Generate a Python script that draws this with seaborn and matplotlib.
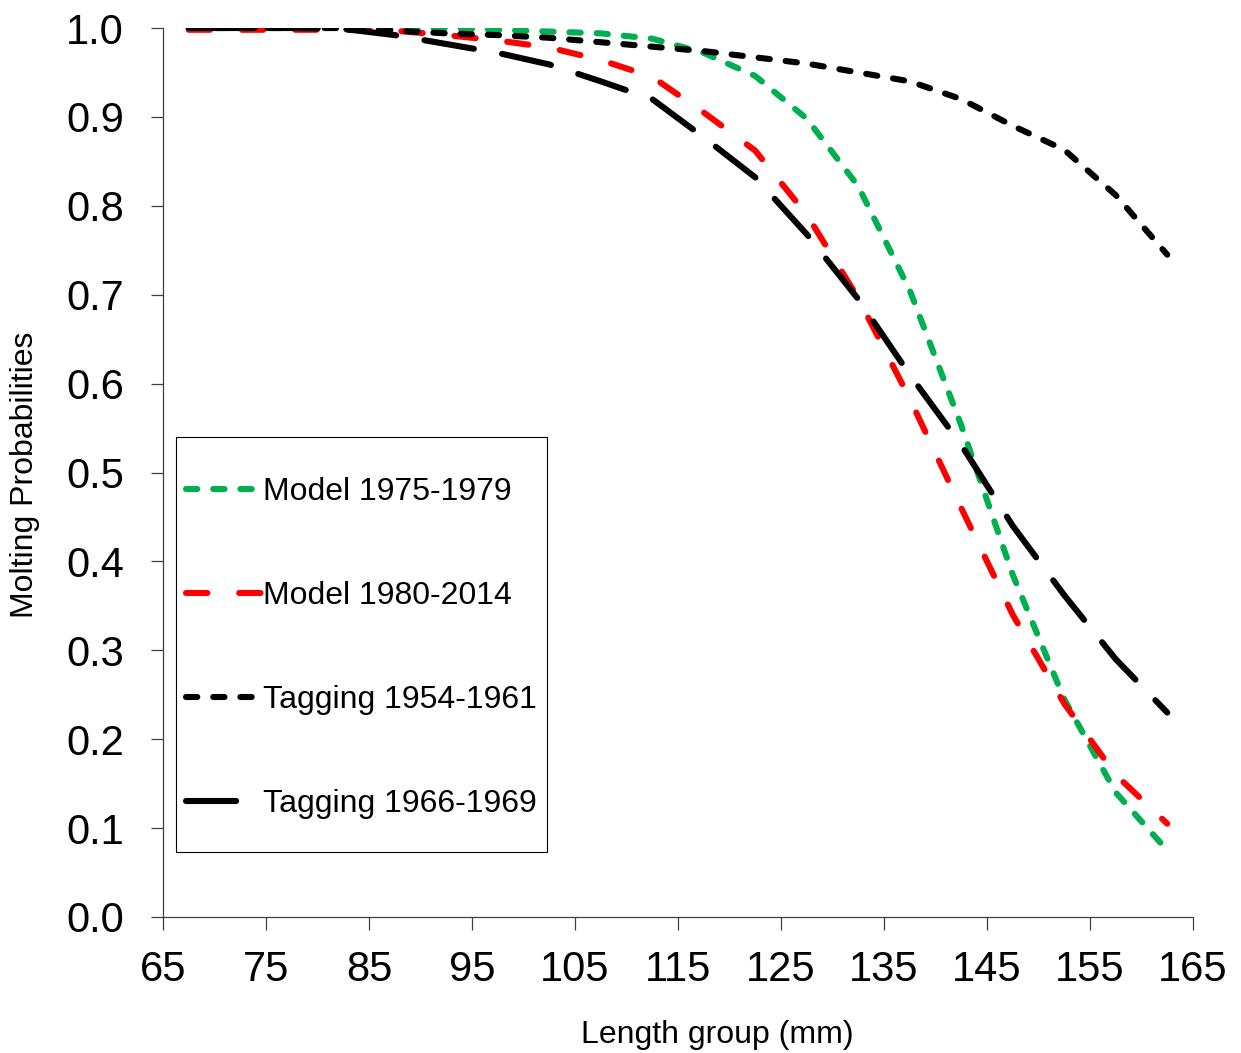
import pandas as pd
import matplotlib
matplotlib.use('Agg')
import matplotlib.pyplot as plt
from matplotlib.path import Path
import seaborn as sns

# length group midpoints (mm)
length = [67.5, 72.5, 77.5, 82.5, 87.5, 92.5, 97.5, 102.5, 107.5, 112.5,
          117.5, 122.5, 127.5, 132.5, 137.5, 142.5, 147.5, 152.5, 157.5, 162.5]

model_1975 = [1.0, 1.0, 1.0, 1.0, 1.0, 1.0, 0.998, 0.996, 0.994, 0.988,
              0.972, 0.946, 0.898, 0.822, 0.705, 0.553, 0.385, 0.245, 0.14, 0.075]
model_1980 = [0.998, 0.998, 0.998, 0.998, 0.997, 0.992, 0.986, 0.978, 0.964, 0.945,
              0.905, 0.862, 0.79, 0.696, 0.583, 0.46, 0.34, 0.24, 0.16, 0.105]
tag_1954 = [1.0, 1.0, 1.0, 1.0, 0.997, 0.994, 0.992, 0.989, 0.984, 0.979,
            0.974, 0.967, 0.96, 0.95, 0.94, 0.92, 0.89, 0.863, 0.812, 0.745]
tag_1966 = [1.0, 1.0, 1.0, 0.999, 0.992, 0.982, 0.972, 0.959, 0.94, 0.92,
            0.877, 0.832, 0.768, 0.695, 0.61, 0.531, 0.44, 0.362, 0.29, 0.23]

labels = ['Model 1975-1979', 'Model 1980-2014', 'Tagging 1954-1961', 'Tagging 1966-1969']

df = pd.DataFrame({'length': length,
                   labels[0]: model_1975,
                   labels[1]: model_1980,
                   labels[2]: tag_1954,
                   labels[3]: tag_1966})

sns.set_style('ticks')
plt.rcParams['font.family'] = ['Liberation Sans', 'DejaVu Sans']
plt.rcParams['text.color'] = 'black'
plt.rcParams['axes.labelcolor'] = 'black'

fig = plt.figure(figsize=(12.41, 10.53), dpi=100)
ax = fig.add_axes([163 / 1241, 136 / 1053, 1030 / 1241, 889 / 1053])

lw = 4.4
styles = {
    labels[0]: ('#00B050', (0, (1.85, 2.6))),
    labels[1]: ('#FF0000', (0, (3.5, 5.2))),
    labels[2]: ('black', (0, (1.85, 2.6))),
    labels[3]: ('black', (0, (8.2, 4.7))),
}
for name in labels:
    col, ls = styles[name]
    sns.lineplot(data=df, x='length', y=name, ax=ax, color=col, linestyle=ls,
                 linewidth=lw, dash_capstyle='round', label=name)

ax.set_xlim(65, 165)
ax.set_ylim(0, 1.0)
ax.set_xticks([65, 75, 85, 95, 105, 115, 125, 135, 145, 155, 165])
ax.set_yticks([0.0, 0.1, 0.2, 0.3, 0.4, 0.5, 0.6, 0.7, 0.8, 0.9, 1.0])
ax.set_yticklabels([f'{v:.1f}' for v in ax.get_yticks()])

sns.despine(ax=ax)
for side in ['left', 'bottom']:
    ax.spines[side].set_color('#404040')
    ax.spines[side].set_linewidth(0.9)
ax.tick_params(axis='both', length=9, width=0.9, color='#404040', labelsize=30,
               labelcolor='black')
ax.tick_params(axis='y', pad=19)
ax.tick_params(axis='x', pad=15)

ax.set_xlabel('Length group (mm)', fontsize=23, va='center')
ax.xaxis.set_label_coords((717 - 163) / 1030, (917 - 1035) / 889)
ax.set_ylabel('Molting Probabilities', fontsize=23, va='center')
ax.yaxis.set_label_coords((25 - 163) / 1030, (917 - 475) / 889)


# legend frame: narrow side padding, tall top/bottom padding like the original
def tall_box(x0, y0, width, height, mutation_size):
    pad_bot = 0.72 * mutation_size
    pad_top = 0.95 * mutation_size
    return Path([(x0, y0 - pad_bot), (x0 + width, y0 - pad_bot),
                 (x0 + width, y0 + height + pad_top), (x0, y0 + height + pad_top),
                 (x0, y0 - pad_bot)], closed=True)


leg = ax.legend(loc='lower left', bbox_to_anchor=(13 / 1030, (917 - 829) / 889),
                borderaxespad=0, frameon=True, fancybox=False, edgecolor='black',
                framealpha=1, fontsize=23, handlelength=2.38, handletextpad=0.05,
                labelspacing=2.32, borderpad=0.3)
leg.get_frame().set_boxstyle(tall_box)
leg.get_frame().set_linewidth(0.8)

fig.savefig('out.png', dpi=100)
